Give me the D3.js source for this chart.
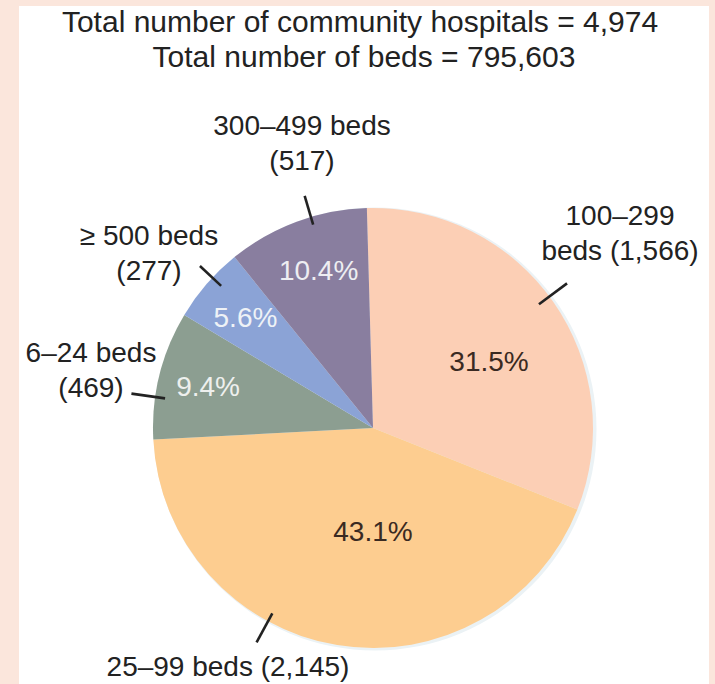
<!DOCTYPE html>
<html>
<head>
<meta charset="utf-8">
<script src="https://cdn.jsdelivr.net/npm/d3@7"></script>
<style>
  html, body { margin: 0; padding: 0; background: #fbe6dc; }
  svg { display: block; }
  text { font-family: "Liberation Sans", Arial, Helvetica, sans-serif; }
</style>
</head>
<body>
<svg id="chart" width="715" height="684"></svg>
<script>
// Community hospitals by bed size
const categories = ["100–299 beds", "25–99 beds", "6–24 beds", "≥ 500 beds", "300–499 beds"];
const hospitals  = [1566, 2145, 469, 277, 517];
const colors     = ["#fccfb5", "#fdcd90", "#8c9e91", "#8ba3d6", "#897e9f"];
const pctColors  = ["#3a2a22", "#3a2a22", "#eef0ee", "#eef2f6", "#eeeef2"];
const totalBeds  = 795603;

const W = 715, H = 684;
const cx = 373, cy = 428, R = 220;
const deg = Math.PI / 180;
const startAngle = -1.6 * deg;

// Layout of percent labels: [radius, angle (deg, clockwise from top)]
const pctLayout = [[134, 60], [103, 180], [170, 284], [169, 311], [167, 341]];
// Leader lines: angle (deg) with inner/outer radius
const leaderLayout = [
  { a: 53.3, r0: 207, r1: 242 },
  { a: 208.5, r0: 211, r1: 244 },
  { a: 278.1, r0: 210, r1: 244 },
  { a: 313.1, r0: 208, r1: 237 },
  { a: 343.6, r0: 212, r1: 242 }
];
// Outer label blocks: centre x and first baseline
const labelLayout = [
  { x: 620, y: 225 },
  { x: 228, y: 676 },
  { x: 91,  y: 362 },
  { x: 149, y: 245 },
  { x: 302, y: 135 }
];

const total = d3.sum(hospitals);
const fmtInt = d3.format(",");
const fmtPct = d3.format(".1%");

function labelLines(i) {
  const n = "(" + fmtInt(hospitals[i]) + ")";
  const c = categories[i];
  if (i === 0) { const p = c.split(" "); return [p[0], p[1] + " " + n]; }
  if (i === 1) return [c + " " + n];
  return [c, n];
}

const svg = d3.select("#chart");

// white panel
svg.append("rect").attr("x", 19).attr("y", 6).attr("width", 690).attr("height", H - 6).attr("fill", "#ffffff");

// titles
svg.append("text").attr("x", 360).attr("y", 32).attr("text-anchor", "middle")
  .attr("font-size", 30).attr("fill", "#222")
  .text("Total number of community hospitals = " + fmtInt(total));
svg.append("text").attr("x", 364).attr("y", 67).attr("text-anchor", "middle")
  .attr("font-size", 30).attr("fill", "#222")
  .text("Total number of beds = " + fmtInt(totalBeds));

const pie = d3.pie().sort(null).value(d => d)
  .startAngle(startAngle).endAngle(startAngle + 2 * Math.PI);
const arcs = pie(hospitals);
const arc = d3.arc().innerRadius(0).outerRadius(R);

const g = svg.append("g").attr("transform", `translate(${cx},${cy})`);

// soft rim on the lower right
g.append("circle").attr("cx", 2).attr("cy", 1).attr("r", R + 1.5)
  .attr("fill", "#ebf2f5");

g.selectAll("path.slice").data(arcs).join("path")
  .attr("class", "slice")
  .attr("d", arc)
  .attr("fill", (d, i) => colors[i]);

function polar(r, aDeg) {
  const a = aDeg * deg;
  return [r * Math.sin(a), -r * Math.cos(a)];
}

// percent labels
g.selectAll("text.pct").data(arcs).join("text")
  .attr("class", "pct")
  .attr("text-anchor", "middle")
  .attr("dominant-baseline", "central")
  .attr("font-size", 28)
  .attr("fill", (d, i) => pctColors[i])
  .attr("x", (d, i) => polar(pctLayout[i][0], pctLayout[i][1])[0])
  .attr("y", (d, i) => polar(pctLayout[i][0], pctLayout[i][1])[1])
  .text(d => fmtPct(d.value / total));

// leader lines
g.selectAll("line.leader").data(arcs).join("line")
  .attr("class", "leader")
  .attr("x1", (d, i) => polar(leaderLayout[i].r0, leaderLayout[i].a)[0])
  .attr("y1", (d, i) => polar(leaderLayout[i].r0, leaderLayout[i].a)[1])
  .attr("x2", (d, i) => polar(leaderLayout[i].r1, leaderLayout[i].a)[0])
  .attr("y2", (d, i) => polar(leaderLayout[i].r1, leaderLayout[i].a)[1])
  .attr("stroke", "#222").attr("stroke-width", 2.6);

// outer labels
arcs.forEach((d, i) => {
  const t = svg.append("text")
    .attr("text-anchor", "middle")
    .attr("font-size", 28)
    .attr("fill", "#222");
  labelLines(i).forEach((line, k) => {
    t.append("tspan").attr("x", labelLayout[i].x).attr("y", labelLayout[i].y + k * 35).text(line);
  });
});
</script>
</body>
</html>
